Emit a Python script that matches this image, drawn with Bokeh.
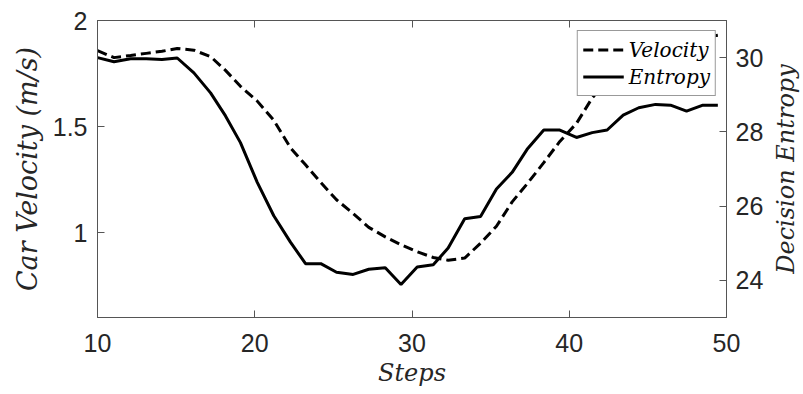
import math
from bokeh.plotting import figure
from bokeh.layouts import row
from bokeh.models import (Range1d, LinearAxis, FixedTicker, Legend, LegendItem)
from bokeh.core.properties import value
from bokeh.embed import file_html
from bokeh.resources import INLINE

# ---- data ----
steps = [10.0, 11.05, 12.1, 13.1, 14.1, 15.07, 16.13, 17.19, 18.14, 19.09,
         20.16, 21.21, 22.27, 23.23, 24.2, 25.2, 26.26, 27.25, 28.3, 29.3,
         30.33, 31.35, 32.3, 33.35, 34.36, 35.37, 36.37, 37.32, 38.38, 39.4,
         40.46, 41.46, 42.41, 43.43, 44.42, 45.49, 46.44, 47.46, 48.5, 49.45]
velocity = [1.858, 1.825, 1.835, 1.845, 1.855, 1.868, 1.860, 1.830, 1.765, 1.690,
            1.620, 1.530, 1.400, 1.320, 1.236, 1.155, 1.090, 1.025, 0.980, 0.943,
            0.910, 0.883, 0.870, 0.880, 0.950, 1.030, 1.145, 1.230, 1.330, 1.430,
            1.515, 1.635, 1.720, 1.790, 1.840, 1.870, 1.890, 1.910, 1.920, 1.930]
entropy = [30.00, 29.89, 29.97, 29.97, 29.95, 29.99, 29.59, 29.05, 28.43, 27.71,
           26.64, 25.74, 25.03, 24.45, 24.45, 24.22, 24.16, 24.30, 24.34, 23.89,
           24.36, 24.42, 24.87, 25.66, 25.72, 26.46, 26.91, 27.53, 28.05, 28.05,
           27.85, 27.98, 28.05, 28.45, 28.65, 28.74, 28.72, 28.56, 28.72, 28.72]
x_ticks = [10, 20, 30, 40, 50]
vel_ticks = [1, 1.5, 2]
ent_ticks = [24, 26, 28, 30]
right_title = "Decision Entropy"

AX = "#555555"
TXT = "#262626"
SERIF = "DejaVu Serif"

ent_range = Range1d(23, 31)

p = figure(width=768, height=394, output_backend="svg", toolbar_location=None,
           x_range=Range1d(10, 50), y_range=Range1d(0.6, 2.0),
           min_border_left=97, min_border_right=42, min_border_top=20,
           min_border_bottom=77, background_fill_color="white",
           border_fill_color="white")
p.extra_y_ranges = {"ent": ent_range}
p.xgrid.visible = False
p.ygrid.visible = False
p.outline_line_color = AX
p.outline_line_width = 1

def style(ax):
    ax.axis_line_color = AX
    ax.major_tick_line_color = AX
    ax.major_tick_in = 7
    ax.major_tick_out = 0
    ax.minor_tick_line_color = None
    ax.major_label_text_font = "Liberation Sans"
    ax.major_label_text_font_size = "25px"
    ax.major_label_text_color = TXT
    ax.axis_label_text_font = SERIF
    ax.axis_label_text_font_style = "italic"
    ax.axis_label_text_font_size = "24px"
    ax.axis_label_text_color = TXT

xa = p.xaxis[0]
style(xa)
xa.ticker = FixedTicker(ticks=x_ticks)
xa.axis_label = "Steps"
xa.major_label_standoff = 16
xa.axis_label_standoff = 4

ya = p.yaxis[0]
style(ya)
ya.ticker = FixedTicker(ticks=vel_ticks)
ya.major_label_overrides = {1: "1", 1.5: "1.5", 2: "2"}
ya.axis_label = "Car Velocity (m/s)"
ya.axis_label_text_font_size = "27px"
ya.major_label_standoff = 10
ya.axis_label_standoff = 7

ra = LinearAxis(y_range_name="ent", ticker=FixedTicker(ticks=ent_ticks))
style(ra)
ra.major_label_standoff = 9
p.add_layout(ra, "right")

ta = LinearAxis(ticker=FixedTicker(ticks=x_ticks))
style(ta)
ta.major_label_text_font_size = "1px"
ta.major_label_text_color = None
ta.major_label_standoff = 0
p.add_layout(ta, "above")

r1 = p.line(steps, velocity, line_width=3, line_color="black", line_dash="10 5")
r2 = p.line(steps, entropy, y_range_name="ent", line_width=3, line_color="black")

legend = Legend(items=[LegendItem(label="Velocity", renderers=[r1]),
                       LegendItem(label="Entropy", renderers=[r2])],
                location="top_right", margin=10, padding=5, spacing=0,
                glyph_width=41, glyph_height=27, label_height=27, label_standoff=5,
                border_line_color="#333333", border_line_width=1,
                background_fill_color="white", background_fill_alpha=1.0,
                label_text_font=SERIF, label_text_font_style="italic",
                label_text_font_size="20px", label_text_color="black")
p.add_layout(legend)

# right-hand axis title, reading bottom-to-top as in the reference
p2 = figure(width=35, height=394, output_backend="svg", toolbar_location=None,
            x_range=Range1d(0, 1), y_range=ent_range,
            min_border_left=0, min_border_right=0, min_border_top=20,
            min_border_bottom=77, background_fill_color="white",
            border_fill_color="white")
p2.axis.visible = False
p2.xgrid.visible = False
p2.ygrid.visible = False
p2.outline_line_color = None
p2.text(x=[0.5], y=[(ent_range.start + ent_range.end) / 2], text=[right_title],
        angle=math.pi / 2, text_align="center", text_baseline="middle",
        text_font=value(SERIF), text_font_style="italic", text_font_size="24px",
        text_color=TXT)

layout = row(p, p2, spacing=0)
open("out.html", "w").write(file_html(layout, INLINE))
